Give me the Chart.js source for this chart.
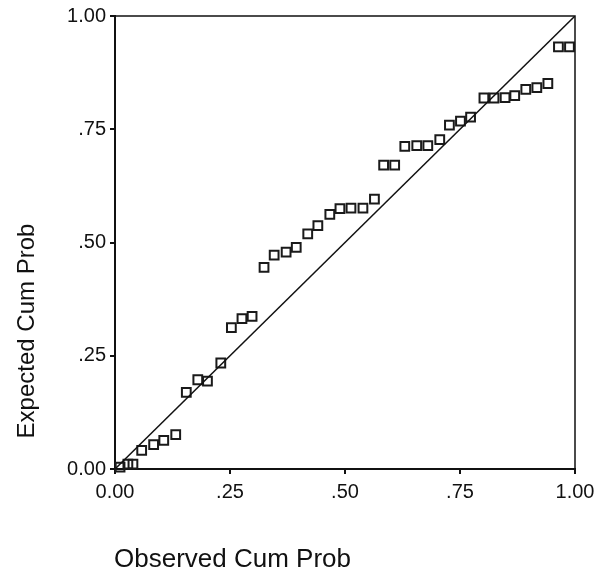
<!DOCTYPE html>
<html>
<head>
<meta charset="utf-8">
<script src="https://cdn.jsdelivr.net/npm/chart.js@4.4.0/dist/chart.umd.min.js"></script>
<style>
  html, body { margin: 0; padding: 0; background: #fff; }
</style>
</head>
<body>
<canvas id="pp" width="595" height="577"></canvas>
<script>
// P-P plot values
const observedCum = [0.011, 0.028, 0.039, 0.058, 0.084, 0.106, 0.132, 0.155, 0.180, 0.201,
  0.230, 0.253, 0.276, 0.298, 0.324, 0.346, 0.372, 0.394, 0.419, 0.441,
  0.467, 0.489, 0.513, 0.539, 0.564, 0.584, 0.608, 0.630, 0.656, 0.680,
  0.706, 0.727, 0.751, 0.773, 0.802, 0.824, 0.848, 0.869, 0.893, 0.917,
  0.941, 0.964, 0.988];
const expectedCum = [0.004, 0.011, 0.011, 0.041, 0.054, 0.063, 0.076, 0.169, 0.197, 0.194,
  0.234, 0.312, 0.332, 0.337, 0.445, 0.472, 0.479, 0.489, 0.519, 0.537,
  0.562, 0.575, 0.576, 0.576, 0.596, 0.671, 0.671, 0.712, 0.714, 0.714,
  0.727, 0.759, 0.768, 0.777, 0.819, 0.819, 0.820, 0.824, 0.838, 0.842,
  0.851, 0.932, 0.932];
const refLine = [0, 1];
const tickLabels = ['0.00', '.25', '.50', '.75', '1.00'];
const xTitle = 'Observed Cum Prob';
const yTitle = 'Expected Cum Prob';

const FONT = "'Liberation Sans', Arial, sans-serif";
const INK = '#111';

// box round the plot area + the two axis titles
const frameAndTitles = {
  id: 'frameAndTitles',
  afterDraw(chart) {
    const ctx = chart.ctx;
    const a = chart.chartArea;
    ctx.save();
    ctx.strokeStyle = INK;
    ctx.lineWidth = 1.5;
    ctx.beginPath();
    ctx.moveTo(a.left, a.top);
    ctx.lineTo(a.right, a.top);
    ctx.lineTo(a.right, a.bottom);
    ctx.stroke();

    ctx.fillStyle = INK;
    ctx.font = '26px ' + FONT;
    ctx.textAlign = 'left';
    ctx.textBaseline = 'alphabetic';
    ctx.fillText(xTitle, 114, 567);

    ctx.font = '24px ' + FONT;
    ctx.translate(34, 331);
    ctx.rotate(-Math.PI / 2);
    ctx.textAlign = 'center';
    ctx.fillText(yTitle, 0, 0);
    ctx.restore();
  }
};

function tickText(value) {
  const i = Math.round(value / 0.25);
  return tickLabels[i];
}

new Chart(document.getElementById('pp'), {
  type: 'scatter',
  data: {
    datasets: [
      {
        type: 'line',
        data: refLine.map(v => ({ x: v, y: v })),
        borderColor: INK,
        borderWidth: 1.5,
        pointRadius: 0,
        fill: false
      },
      {
        data: observedCum.map((x, i) => ({ x: x, y: expectedCum[i] })),
        pointStyle: 'rect',
        pointRadius: 6.2,
        pointBorderWidth: 2,
        pointBorderColor: '#1a1a1a',
        pointBackgroundColor: 'rgba(255,255,255,0)',
        clip: false
      }
    ]
  },
  options: {
    responsive: false,
    devicePixelRatio: 1,
    animation: false,
    layout: { padding: { left: 0, top: 16, right: 20, bottom: 0 } },
    plugins: { legend: { display: false }, tooltip: { enabled: false } },
    scales: {
      x: {
        type: 'linear',
        min: 0,
        max: 1,
        afterFit(scale) {
          scale.height = 108;
          scale.paddingLeft = 0;
          scale.paddingRight = 0;
        },
        border: { display: true, color: INK, width: 2 },
        grid: { display: true, drawOnChartArea: false, drawTicks: true, tickLength: 5, color: INK, lineWidth: 2 },
        ticks: {
          stepSize: 0.25,
          padding: 6,
          color: INK,
          font: { family: FONT, size: 20 },
          maxRotation: 0,
          callback: tickText
        }
      },
      y: {
        type: 'linear',
        min: 0,
        max: 1,
        afterFit(scale) {
          scale.width = 115;
          scale.paddingTop = 0;
          scale.paddingBottom = 0;
        },
        border: { display: true, color: INK, width: 2 },
        grid: { display: true, drawOnChartArea: false, drawTicks: true, tickLength: 5, color: INK, lineWidth: 2 },
        ticks: {
          stepSize: 0.25,
          padding: 4,
          color: INK,
          font: { family: FONT, size: 20 },
          callback: tickText
        }
      }
    }
  },
  plugins: [frameAndTitles]
});
</script>
</body>
</html>
